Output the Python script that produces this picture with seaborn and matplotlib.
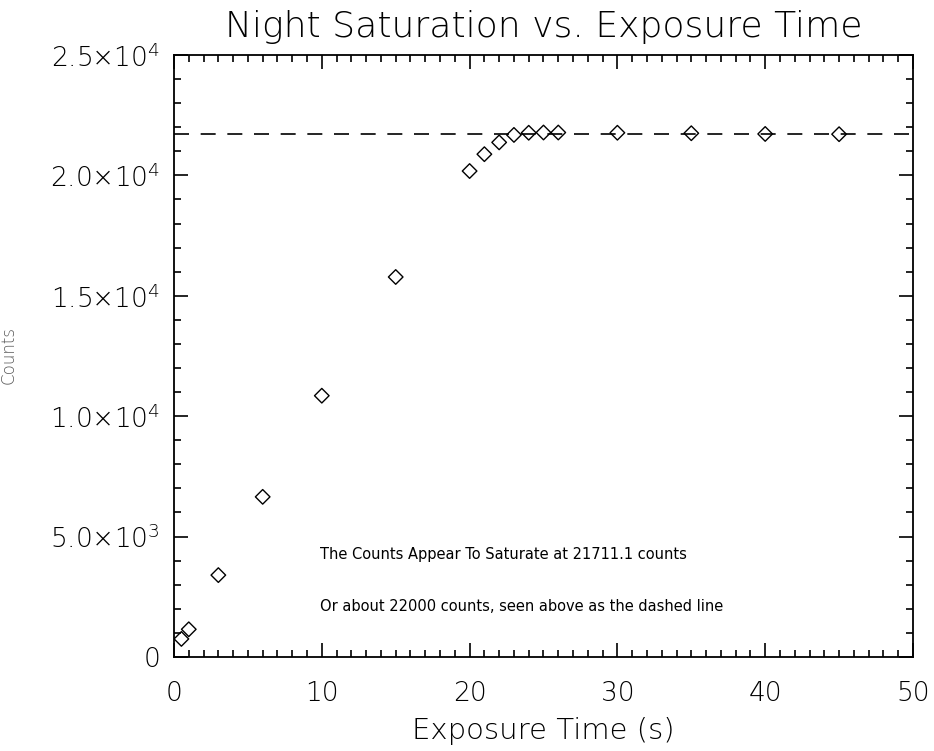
import matplotlib
matplotlib.use("Agg")
import matplotlib.pyplot as plt
import seaborn as sns
import pandas as pd
from matplotlib.ticker import MultipleLocator

exposure = [0.5, 1, 3, 6, 10, 15, 20, 21, 22, 23, 24, 25, 26, 30, 35, 40, 45]
counts = [750, 1150, 3400, 6650, 10850, 15780, 20180, 20880, 21370, 21680,
          21770, 21780, 21780, 21770, 21750, 21720, 21710]
saturation = 21711.1
yticks = [0, 5000, 10000, 15000, 20000, 25000]
ytick_labels = ["0", r"5.0×10$^\mathregular{3}$", r"1.0×10$^\mathregular{4}$",
                r"1.5×10$^\mathregular{4}$", r"2.0×10$^\mathregular{4}$",
                r"2.5×10$^\mathregular{4}$"]
xticks = [0, 10, 20, 30, 40, 50]
title = "Night Saturation vs. Exposure Time"
xlabel = "Exposure Time (s)"
ylabel = "Counts"
note1 = "The Counts Appear To Saturate at 21711.1 counts"
note2 = "Or about 22000 counts, seen above as the dashed line"

sns.set_style("ticks")
plt.rcParams['font.family'] = ['DejaVu Sans']
plt.rcParams['font.weight'] = 'light'
plt.rcParams['mathtext.fontset'] = 'dejavusans'
for k in ['text.color', 'axes.labelcolor', 'xtick.color', 'ytick.color', 'axes.edgecolor']:
    plt.rcParams[k] = 'black'

df = pd.DataFrame({"t": exposure, "c": counts})

fig = plt.figure(figsize=(9.34, 7.51), dpi=100)
ax = fig.add_axes([0.1863, 0.1252, 0.7912, 0.8016])

ax.axhline(saturation, color="black", lw=1.2, ls=(0, (9, 7)), zorder=1)
sns.scatterplot(data=df, x="t", y="c", marker="D", s=55, facecolors="none",
                edgecolor="black", linewidth=1.0, ax=ax, zorder=2)

ax.set_xlim(0, 50)
ax.set_ylim(0, 25000)
ax.set_xticks(xticks)
ax.set_xticklabels([str(v) for v in xticks], fontweight='light')
ax.set_yticks(yticks)
ax.set_yticklabels(ytick_labels, fontweight='light')
ax.xaxis.set_minor_locator(MultipleLocator(1))
ax.yaxis.set_minor_locator(MultipleLocator(1000))
ax.tick_params(which="both", direction="in", top=True, right=True,
               labelsize=19, width=1.2)
ax.tick_params(which="major", length=10)
ax.tick_params(which="minor", length=5)
ax.tick_params(axis="x", which="major", pad=17)
ax.tick_params(axis="y", which="major", pad=10)
for sp in ax.spines.values():
    sp.set_linewidth(1.3)

ax.set_title(title, fontsize=26, pad=13, fontweight='light')
ax.set_xlabel(xlabel, fontsize=21, labelpad=8, fontweight='light')
ax.set_ylabel("")
fig.text(0.009, 0.527, ylabel, rotation=90, fontsize=12, color="0.35",
         ha="center", va="center", fontweight='light')

ax.text(9.9, 4236, note1, fontsize=10.5, va="center", ha="left", fontweight='normal')
ax.text(9.9, 2076, note2, fontsize=10.5, va="center", ha="left", fontweight='normal')

fig.savefig("out.png", dpi=100)
